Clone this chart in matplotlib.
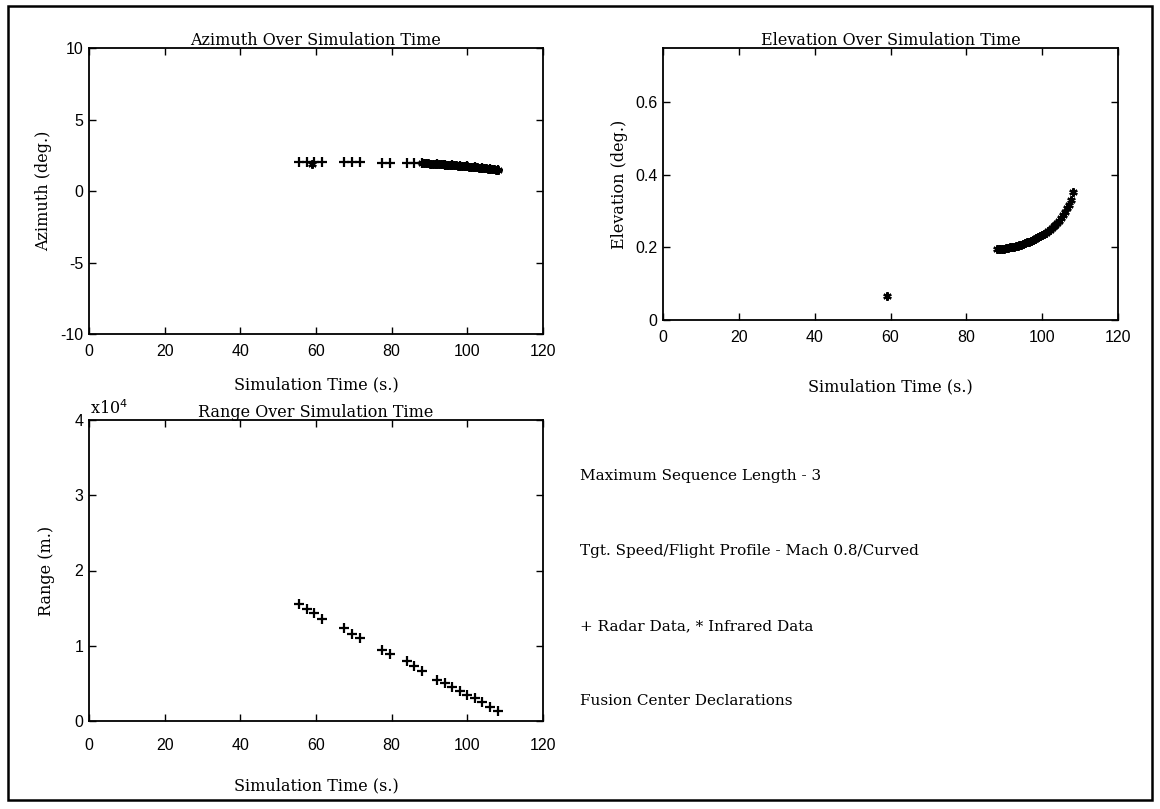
import matplotlib
matplotlib.use("Agg")
import matplotlib.pyplot as plt
from matplotlib.patches import Rectangle
from matplotlib.ticker import FuncFormatter

plt.rcParams["axes.unicode_minus"] = False

# ---------------- data ----------------
radar_t = [55.5, 57.5, 59.5, 61.5, 67.5, 69.5, 71.5, 77.5, 79.5, 84.0, 86.0, 88.0,
           92.0, 94.0, 96.0, 98.0, 100.0, 102.0, 104.0, 106.0, 108.0]
radar_az = [2.00, 2.00, 2.00, 2.00, 2.00, 2.00, 2.00, 1.98, 1.98, 1.95, 1.95, 1.94,
            1.89, 1.85, 1.81, 1.77, 1.72, 1.67, 1.62, 1.56, 1.48]
radar_rng = [15500, 14900, 14300, 13600, 12300, 11600, 11000, 9500, 8900, 8000, 7300, 6600,
             5500, 5000, 4500, 4000, 3500, 3000, 2500, 1900, 1300]

ir_t = [59.0,
        88.0, 88.5, 89.0, 89.5, 90.0, 90.5, 91.0, 91.5, 92.0, 92.5,
        93.0, 93.5, 94.0, 94.5, 95.0, 95.5, 96.0, 96.5, 97.0, 97.5,
        98.0, 98.5, 99.0, 99.5, 100.0, 100.5, 101.0, 101.5, 102.0, 102.5,
        103.0, 103.5, 104.0, 104.5, 105.0, 105.5, 106.0, 106.5, 107.0, 107.5,
        108.0]
ir_az = [1.90,
         1.95, 1.94, 1.93, 1.93, 1.92, 1.91, 1.90, 1.90, 1.89, 1.88,
         1.87, 1.86, 1.85, 1.84, 1.83, 1.82, 1.81, 1.80, 1.79, 1.78,
         1.77, 1.76, 1.75, 1.74, 1.72, 1.71, 1.70, 1.69, 1.67, 1.66,
         1.64, 1.63, 1.61, 1.60, 1.58, 1.56, 1.55, 1.53, 1.51, 1.49,
         1.47]
ir_el = [0.065,
         0.195, 0.195, 0.196, 0.197, 0.197, 0.198, 0.199, 0.200, 0.201, 0.202,
         0.204, 0.205, 0.207, 0.208, 0.210, 0.212, 0.214, 0.216, 0.218, 0.220,
         0.223, 0.225, 0.228, 0.231, 0.234, 0.237, 0.241, 0.245, 0.249, 0.253,
         0.258, 0.263, 0.268, 0.274, 0.281, 0.289, 0.298, 0.308, 0.318, 0.330,
         0.352]

x_ticks = [0, 20, 40, 60, 80, 100, 120]
az_ticks = [-10, -5, 0, 5, 10]
el_ticks = [0, 0.2, 0.4, 0.6]
rng_ticks = [0, 10000, 20000, 30000, 40000]

info_lines = ["Maximum Sequence Length - 3",
              "Tgt. Speed/Flight Profile - Mach 0.8/Curved",
              "+ Radar Data, * Infrared Data",
              "Fusion Center Declarations"]

# ---------------- style ----------------
SERIF = "DejaVu Serif"
SANS = "Liberation Sans"
TFS = 11.5
W, H = 1160, 809
fig = plt.figure(figsize=(W / 100, H / 100), dpi=100)
fig.patch.set_facecolor("white")

def px(l, t, r, b):
    return [l / W, 1 - b / H, (r - l) / W, (b - t) / H]

fig.add_artist(Rectangle((8 / W, 1 - 800 / H), (1152 - 8) / W, (800 - 6) / H,
                         transform=fig.transFigure, fill=False, lw=1.8, ec="black"))

def style(ax, xpad=6):
    ax.tick_params(direction="in", top=True, right=True, length=5, width=1,
                   labelsize=11.5, pad=4)
    ax.tick_params(axis="x", pad=xpad)
    for lab in ax.get_xticklabels() + ax.get_yticklabels():
        lab.set_fontfamily(SANS)
    for s in ax.spines.values():
        s.set_linewidth(1.3)
    ax.set_xlim(0, 120)
    ax.set_xticks(x_ticks)

ms_plus = 7
ms_star = 6

# Azimuth
ax1 = fig.add_axes(px(89, 48, 543, 334))
ax1.plot(radar_t, radar_az, linestyle="none", marker="+", color="black", ms=ms_plus, mew=1.6)
ax1.plot(ir_t, ir_az, linestyle="none", marker=(6, 2, 0), color="black", ms=ms_star, mew=1.6)
ax1.set_ylim(-10, 10)
ax1.set_yticks(az_ticks)
style(ax1, 7)
ax1.set_title("Azimuth Over Simulation Time", fontfamily=SERIF, fontsize=TFS, pad=2)
ax1.set_xlabel("Simulation Time (s.)", fontfamily=SERIF, fontsize=TFS, labelpad=13)
ax1.set_ylabel("Azimuth (deg.)", fontfamily=SERIF, fontsize=TFS, labelpad=6)

# Elevation
ax2 = fig.add_axes(px(663, 48, 1118, 320))
ax2.plot(ir_t, ir_el, linestyle="none", marker=(6, 2, 0), color="black", ms=ms_star, mew=1.6)
ax2.set_ylim(0, 0.75)
ax2.set_yticks(el_ticks)
ax2.yaxis.set_major_formatter(FuncFormatter(lambda v, p: "0" if v == 0 else f"{v:.1f}"))
style(ax2, 7)
ax2.set_title("Elevation Over Simulation Time", fontfamily=SERIF, fontsize=TFS, pad=2)
ax2.set_xlabel("Simulation Time (s.)", fontfamily=SERIF, fontsize=TFS, labelpad=24)
ax2.set_ylabel("Elevation (deg.)", fontfamily=SERIF, fontsize=TFS, labelpad=5)

# Range
ax3 = fig.add_axes(px(89, 420, 543, 721))
ax3.plot(radar_t, radar_rng, linestyle="none", marker="+", color="black", ms=ms_plus, mew=1.6)
ax3.set_ylim(0, 40000)
ax3.set_yticks(rng_ticks)
ax3.yaxis.set_major_formatter(FuncFormatter(lambda v, p: f"{v / 1e4:.0f}"))
style(ax3, 12)
ax3.set_title("Range Over Simulation Time", fontfamily=SERIF, fontsize=TFS, pad=2)
ax3.set_xlabel("Simulation Time (s.)", fontfamily=SERIF, fontsize=TFS, labelpad=18)
ax3.set_ylabel("Range (m.)", fontfamily=SERIF, fontsize=TFS, labelpad=14)
ax3.text(0.003, 1.005, r"x10$^4$", transform=ax3.transAxes, fontfamily=SERIF,
         fontsize=11.5, ha="left", va="bottom")

# info text
for i, line in enumerate(info_lines):
    fig.text(580 / W, 1 - (476 + i * 75) / H, line, fontfamily=SERIF, fontsize=11,
             ha="left", va="center")

fig.savefig("out.png", dpi=100, facecolor="white")
